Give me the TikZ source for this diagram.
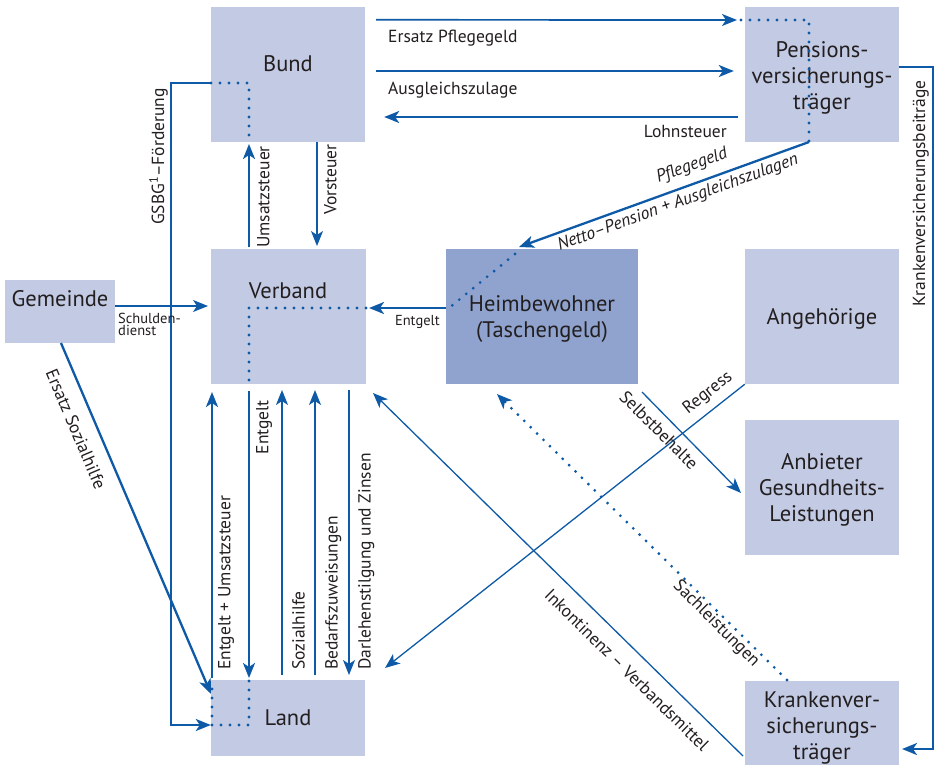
\documentclass[tikz,border=0pt]{standalone}
\usepackage{fontspec}
\setmainfont{PT Sans}
\usetikzlibrary{arrows.meta,calc}
\definecolor{ln}{HTML}{0E5AA7}
\definecolor{bx}{HTML}{C3CAE4}
\definecolor{bxd}{HTML}{8FA3CE}
\definecolor{tx}{HTML}{231F20}
\begin{document}
\begin{tikzpicture}[x=1pt,y=-1pt,
  box/.style={fill=bx, draw=none, minimum width=154pt, minimum height=135pt, inner sep=0pt},
  btxt/.style={text=tx, font=\fontsize{22.5}{26}\selectfont, align=center, inner sep=0pt},
  lab/.style={text=tx, font=\fontsize{17.5}{19}\selectfont, inner sep=0pt},
  slab/.style={text=tx, font=\fontsize{14.5}{12}\selectfont, inner sep=0pt, align=left},
  ilab/.style={text=tx, font=\fontsize{17.5}{19}\itshape\selectfont, inner sep=0pt},
  thk/.style={draw=ln, line width=2.3pt},
  med/.style={draw=ln, line width=1.7pt},
  thn/.style={draw=ln, line width=1.3pt},
  dots/.style={draw=ln, line width=3.1pt, line cap=round, dash pattern=on 0pt off 9pt},
  tip/.style={-{Stealth[length=15pt,width=12pt,inset=4pt]}},
]
\useasboundingbox (0,0) rectangle (935,764);
\fill[white] (0,0) rectangle (935,764);

% boxes
\node[box] (bund) at (288,74.5) {};
\node[box] (pens) at (822,74.5) {};
\node[box, minimum width=110pt, minimum height=63pt] (gem) at (60,311.5) {};
\node[box, minimum width=155pt] (verb) at (288.5,316.5) {};
\node[box, fill=bxd, minimum width=192pt] (heim) at (542,316.5) {};
\node[box] (ang) at (822,316.5) {};
\node[box] (anb) at (822,487.5) {};
\node[box] (kv) at (822,748.5) {};
\node[box, minimum height=76pt] (land) at (288,718) {};

% box texts
\node[btxt] (bundt) at (288,64) {Bund};
\node[btxt] (penst) at (822,78) {Pensions-\\versicherungs-\\träger};
\node[btxt] (gemt) at (60,299) {Gemeinde};
\node[btxt] (verbt) at (288,291) {Verband};
\node[btxt] (heimt) at (542,319) {Heimbewohner\\(Taschengeld)};
\node[btxt] (angt) at (822,319) {Angehörige};
\node[btxt] (anbt) at (822,490) {Anbieter\\Gesundheits-\\Leistungen};
\node[btxt] (kvt) at (822,728) {Krankenver-\\sicherungs-\\träger};
\node[btxt] (landt) at (288,718) {Land};

% named points
\coordinate (pA) at (809,20);
\coordinate (pB) at (809,142);
\coordinate (hA) at (515,254);
\coordinate (hB) at (449,308);
\coordinate (vA) at (249,308);
\coordinate (vB) at (249,384);
\coordinate (bA) at (249,83);
\coordinate (bB) at (249,142);
\coordinate (lA) at (249,681);
\coordinate (lB) at (249,725);
\coordinate (lC) at (212,725);
\coordinate (lD) at (212,681);
\coordinate (gA) at (171,83);
\coordinate (gB) at (171,725);
\coordinate (kA) at (933,67);
\coordinate (kB) at (933,749);

% top horizontal arrows
\draw[med,tip] ($(bund.north east)+(11,13)$) -- (737,20);
\draw[dots] (741,20) -- (pA) -- (pB);
\draw[med,tip] ($(bund.east)+(11,-3.5)$) -- ($(pens.west)+(-11,-3.5)$);
\draw[med,tip] ($(pens.west)+(-7,42.5)$) -- ($(bund.east)+(19,42.5)$);

% Pflegegeld diagonal
\draw[thk,tip] (pB) -- (519,247);
\draw[dots] (hA) -- (hB);
\draw[thk,tip] (heim.west |- vA) -- (369,308);
\draw[dots] (366,308) -- (vA) -- (vB);

% Verband <-> Bund
\draw[thk,tip] (249,247) -- (249,144);
\draw[thn,tip] (317,142) -- (317,246);
\draw[dots] (211,83) -- (bA) -- (bB);
\draw[thk,tip] (211,83) -- (gA) -- (gB) -- (lC -| land.west);

% Verband <-> Land
\draw[thk,tip] (249,391) -- (249,678);
\draw[dots] (lA) -- (lB) -- (lC) -- (lD);
\draw[thk,tip] (212,678) -- (212,392);
\draw[thn,tip] (282,675) -- (282,390);
\draw[thn,tip] (315,675) -- (315,390);
\draw[thn,tip] (349,390) -- (349,675);

% Gemeinde
\draw[thn,tip] (gem.east |- 0,306) -- (208,306);
\draw[thk,tip] (61,343) -- (211,694);

% Krankenversicherungsbeitraege
\draw[thk,tip] (pens.east |- kA) -- (kA) -- (kB) -- (902,749);

% diagonals
\draw[thn,tip] (ang.south west) -- (385,668);
\draw[thn,tip] (642,392) -- (741,493);
\draw[thn,tip] (743,756) -- (373,393);
\draw[dots,tip] (787,680) -- (497,394);

% labels
\node[lab, anchor=west] (l1) at (388,38) {Ersatz Pflegegeld};
\node[lab, anchor=west] (l2) at (388,90) {Ausgleichszulage};
\node[lab, anchor=east] (l3) at (727,131) {Lohnsteuer};
\node[lab, rotate=90, anchor=north west] (l4) at (257,248) {Umsatzsteuer};
\node[lab, rotate=90, anchor=north east] (l5) at (324,144) {Vorsteuer};
\node[lab, rotate=90, anchor=south east] (l6) at (168,88) {GSBG\textsuperscript{1}–Förderung};
\node[lab, rotate=90, anchor=south east] (l7) at (929,80) {Krankenversicherungsbeiträge};
\node[slab, anchor=north west] (l8) at (118,313) {Schulden-\\dienst};
\node[slab, anchor=north east] (l9) at (440,315) {Entgelt};
\node[lab, rotate=90, anchor=north east] (l10) at (256,400) {Entgelt};
\node[lab, rotate=90, anchor=north west] (l11) at (218,670) {Entgelt + Umsatzsteuer};
\node[lab, rotate=90, anchor=north west] (l12) at (292,670) {Sozialhilfe};
\node[lab, rotate=90, anchor=north west] (l13) at (325,670) {Bedarfszuweisungen};
\node[lab, rotate=90, anchor=north west] (l14) at (358,670) {Darlehenstilgung und Zinsen};
\node[ilab, rotate=20] (l15) at (692,166) {Pflegegeld};
\node[ilab, rotate=20] (l16) at (678,203) {Netto–Pension + Ausgleichszulagen};
\node[lab, rotate=38] (l17) at (708,393) {Regress};
\node[lab, rotate=-45] (l18) at (659,430) {Selbstbehalte};
\node[lab, rotate=-44.5] (l19) at (627,670) {Inkontinenz – Verbandsmittel};
\node[lab, rotate=-45] (l20) at (716,624) {Sachleistungen};
\node[lab, rotate=-67] (l21) at (76,429) {Ersatz Sozialhilfe};
\end{tikzpicture}
\end{document}
